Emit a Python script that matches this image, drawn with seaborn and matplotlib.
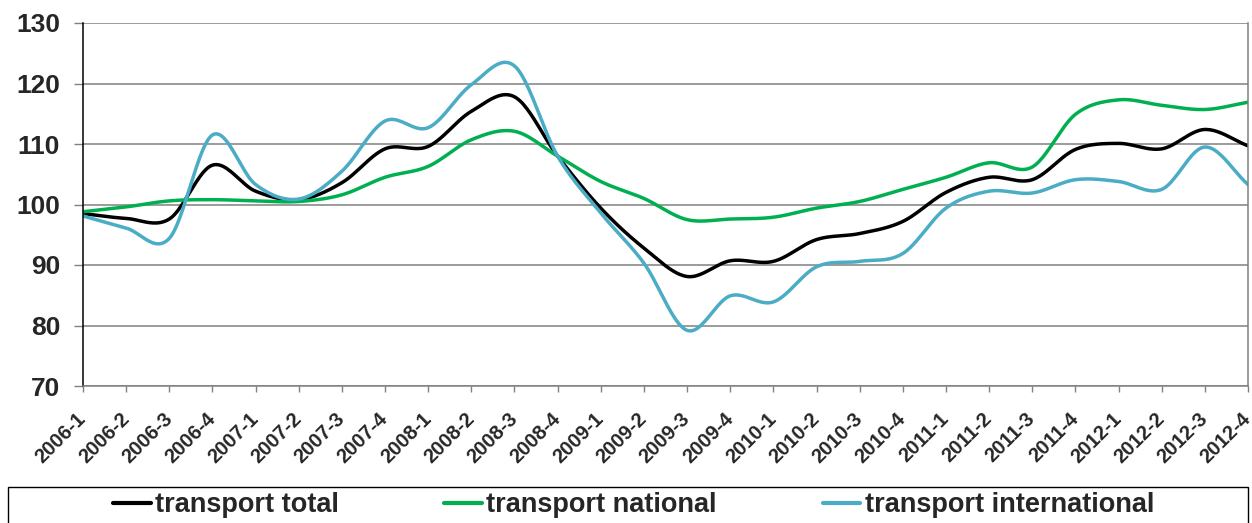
import numpy as np
import pandas as pd
import seaborn as sns
import matplotlib.pyplot as plt
from matplotlib.lines import Line2D
from matplotlib.patches import Rectangle

sns.set_style("white")
plt.rcParams['font.family'] = ['Liberation Sans', 'DejaVu Sans']
plt.rcParams['font.weight'] = 'bold'

quarters = ["2006-1", "2006-2", "2006-3", "2006-4", "2007-1", "2007-2", "2007-3", "2007-4",
            "2008-1", "2008-2", "2008-3", "2008-4", "2009-1", "2009-2", "2009-3", "2009-4",
            "2010-1", "2010-2", "2010-3", "2010-4", "2011-1", "2011-2", "2011-3", "2011-4",
            "2012-1", "2012-2", "2012-3", "2012-4"]

total = [98.5, 97.7, 97.6, 106.5, 102.2, 100.8, 103.6, 109.2, 109.6, 115.4, 117.8, 108.0, 99.4, 92.8,
         88.1, 90.7, 90.6, 94.2, 95.2, 97.2, 102.0, 104.5, 104.1, 109.1, 110.1, 109.2, 112.4, 109.7]
national = [98.8, 99.6, 100.6, 100.8, 100.6, 100.5, 101.6, 104.5, 106.3, 110.7, 112.1, 108.0, 103.8, 101.0,
            97.5, 97.6, 97.9, 99.4, 100.5, 102.5, 104.5, 106.9, 106.2, 114.9, 117.3, 116.4, 115.7, 116.9]
international = [98.1, 96.1, 94.4, 111.5, 103.3, 100.9, 105.5, 113.8, 112.7, 119.8, 122.9, 108.0, 98.6, 90.3,
                 79.2, 84.9, 83.9, 89.7, 90.6, 91.9, 99.4, 102.2, 101.9, 104.1, 103.8, 102.5, 109.5, 103.3]

series_names = ["transport total", "transport national", "transport international"]
colors = ["#000000", "#00B050", "#4BACC6"]


def smooth(values, steps=24):
    # Excel-like smoothed line: cubic Hermite with Catmull-Rom tangents
    y = np.asarray(values, dtype=float)
    n = len(y)
    m = np.empty(n)
    m[1:-1] = (y[2:] - y[:-2]) / 2
    m[0] = y[1] - y[0]
    m[-1] = y[-1] - y[-2]
    xs, ys = [], []
    t = np.linspace(0, 1, steps, endpoint=False)
    h00 = 2 * t**3 - 3 * t**2 + 1
    h10 = t**3 - 2 * t**2 + t
    h01 = -2 * t**3 + 3 * t**2
    h11 = t**3 - t**2
    for i in range(n - 1):
        xs.append(i + t)
        ys.append(h00 * y[i] + h10 * m[i] + h01 * y[i + 1] + h11 * m[i + 1])
    xs.append([n - 1])
    ys.append([y[-1]])
    return np.concatenate(xs), np.concatenate(ys)


fig = plt.figure(figsize=(12.52, 5.23), dpi=100)
ax = fig.add_axes([83 / 1252, 1 - 386 / 523, (1248 - 83) / 1252, (386 - 23) / 523])

for name, vals, col in zip(series_names, [total, national, international], colors):
    sx, sy = smooth(vals)
    sns.lineplot(x=sx, y=sy, ax=ax, color=col, linewidth=2.5, sort=False)

ax.set_xlim(0, len(quarters) - 1)
ax.set_ylim(70, 130)
ax.set_yticks(range(70, 131, 10))
ax.set_xticks(range(len(quarters)))
ax.set_xticklabels(quarters, rotation=45, ha='right', va='center', rotation_mode='anchor')
ax.yaxis.grid(True, color='#808080', linewidth=1.1)
ax.set_axisbelow(True)

ax.tick_params(axis='y', labelsize=19, length=6.5, width=1, color='#808080', pad=10, direction='out', left=True)
ax.tick_params(axis='x', labelsize=14.5, length=4.5, width=1, color='#808080', pad=17, direction='out', bottom=True)
for lab in ax.get_xticklabels() + ax.get_yticklabels():
    lab.set_fontweight('bold')

ax.spines['left'].set_color('#000000')
ax.spines['bottom'].set_color('#808080')
ax.spines['right'].set_color('#808080')
ax.spines['top'].set_visible(False)
for s in ax.spines.values():
    s.set_linewidth(1.1)

# legend box spanning the figure width, cut by the bottom edge
fig.patches.append(Rectangle((8 / 1252, -0.2), 1240 / 1252, 0.2 + 1 - 487 / 523,
                             transform=fig.transFigure, fill=False, edgecolor='#000000', linewidth=1.0))

handles = [Line2D([0], [0], color=c, linewidth=3) for c in colors]
fig.legend(handles, series_names, loc='center left', ncol=3,
           bbox_to_anchor=(113 / 1252, 1 - 505 / 523),
           prop={'size': 19.5, 'weight': 'bold'}, handlelength=1.4, handletextpad=0.15,
           columnspacing=3.9, frameon=False, borderpad=0, borderaxespad=0)

fig.savefig("out.png", dpi=100)
